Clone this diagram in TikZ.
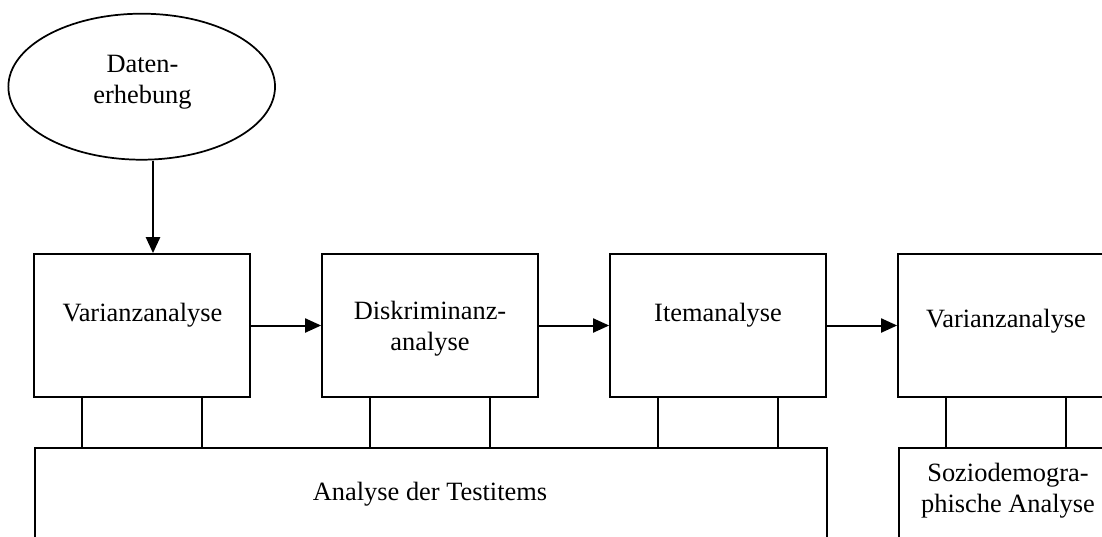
\documentclass[tikz,border=0pt]{standalone}
\usepackage{fontspec}
\setmainfont{Liberation Serif}
\usetikzlibrary{arrows.meta,shapes.geometric}
\tikzset{
  base/.style={draw, line width=1.3pt},
  box/.style={base, rectangle, inner sep=0pt, minimum width=162pt, minimum height=107.25pt},
  oval/.style={base, ellipse, inner sep=0pt, minimum width=200pt, minimum height=109.5pt},
  arr/.style={draw, line width=1.5pt, -{Triangle[length=12pt,width=10.5pt]}},
  lab/.style={font=\fontsize{19.8}{23.25}\selectfont, align=center, inner sep=0pt},
}
\begin{document}
\begin{tikzpicture}[x=0.75pt,y=-0.75pt]
  \clip (0,0) rectangle (1102,536);

  % Datenerhebung
  \node[oval] (dat) at (141.7,86.7) {};
  \node[lab] (datlab) at (142.5,82) {Daten-\\erhebung};

  % upper row
  \node[box] (v1) at (142,325.5) {};
  \node[box] (dk) at (430,325.5) {};
  \node[box] (it) at (718,325.5) {};
  \node[box] (v2) at (1006,325.5) {};
  \node[lab,anchor=base] (v1lab) at (142.5,321) {Varianzanalyse};
  \node[lab] (dklab) at (430,329) {Diskriminanz-\\analyse};
  \node[lab,anchor=base] (itlab) at (718,321) {Itemanalyse};
  \node[lab,anchor=base] (v2lab) at (1006,327) {Varianzanalyse};

  % lower row
  \node[box, anchor=north west, minimum width=594pt, minimum height=100pt] (ana) at (34,447) {};
  \node[box, anchor=north west, minimum height=100pt] (soz) at (898,447) {};
  \node[lab,anchor=base] (analab) at (430,500) {Analyse der Testitems};
  \node[lab] (sozlab) at (1008,490.7) {Soziodemogra-\\phische Analyse};

  % arrows
  \coordinate (drop) at (153,0);
  \draw[arr, line width=1.9pt] (dat.south -| drop) -- (v1.north -| drop);
  \draw[arr] (v1.east) -- (dk.west);
  \draw[arr] (dk.east) -- (it.west);
  \draw[arr] (it.east) -- (v2.west);

  % links to the lower boxes
  \foreach \b/\t in {v1/ana,dk/ana,it/ana,v2/soz} {
    \draw[base] ([xshift=-45pt]\b.south) -- ([xshift=-45pt]\b.south |- \t.north);
    \draw[base] ([xshift=45pt]\b.south) -- ([xshift=45pt]\b.south |- \t.north);
  }
\end{tikzpicture}
\end{document}
